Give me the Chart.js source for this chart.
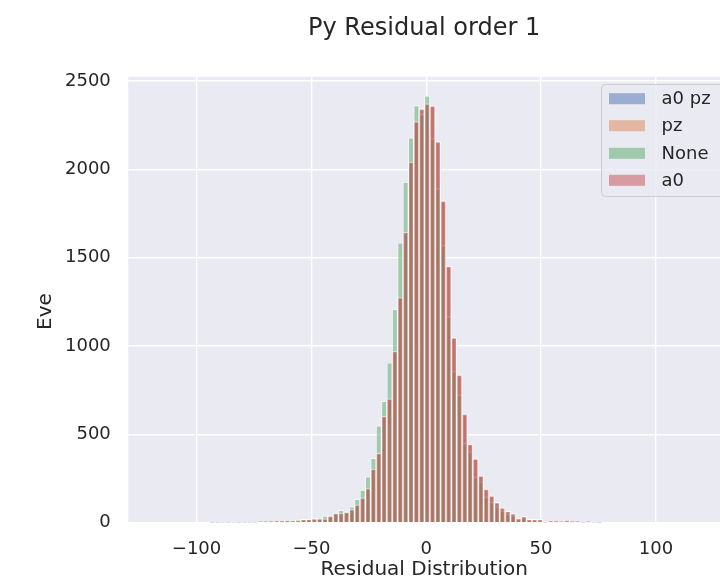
<!DOCTYPE html>
<html>
<head>
<meta charset="utf-8">
<script src="https://cdn.jsdelivr.net/npm/chart.js@4/dist/chart.umd.min.js"></script>
<style>
  html, body { margin: 0; padding: 0; background: #ffffff; overflow: hidden; }
  canvas { display: block; }
</style>
</head>
<body>
<canvas id="grafico" width="720" height="584"></canvas>
<script>
// bin centres (shared by the four histograms)
const bins = [
  -93.20, -90.86, -88.52, -86.18, -83.84, -81.50, -79.16, -76.82, -74.48,
  -72.14, -69.80, -67.46, -65.12, -62.78, -60.44, -58.10, -55.76, -53.42, -51.08,
  -48.74, -46.40, -44.06, -41.72, -39.38, -37.04, -34.70, -32.36, -30.02, -27.68,
  -25.34, -23.00, -20.66, -18.32, -15.98, -13.64, -11.30, -8.96, -6.62, -4.28, -1.94,
  0.40, 2.74, 5.08, 7.42, 9.76, 12.10, 14.44, 16.78, 19.12, 21.46,
  23.80, 26.14, 28.48, 30.82, 33.16, 35.50, 37.84, 40.18, 42.52, 44.86,
  47.20, 49.54, 51.88, 54.22, 56.56, 58.90, 61.24, 63.58, 65.92, 68.26,
  70.60, 72.94, 75.28
];

const a0pz = [
  1, 2, 3, 1, 2, 1, 2, 2, 2,
  4, 4, 6, 6, 7, 9, 12, 13, 18, 18, 22, 21, 23, 37, 52, 53, 58, 73, 99, 139,
  192, 302, 394, 603, 699, 972, 1276, 1640, 2043, 2266, 2344,
  2368, 2360, 2152, 1818, 1448, 1044, 838, 616, 441, 363,
  266, 188, 152, 112, 84, 63, 52, 23, 37, 18,
  20, 18, 2, 8, 7, 4, 13, 6, 5, 1, 5, 3, 1
];

const pz = [
  2, 1, 2, 2, 3, 1, 2, 1, 3,
  4, 5, 5, 7, 8, 9, 11, 14, 17, 19, 21, 23, 22, 36, 51, 55, 59, 75, 101, 141,
  195, 305, 390, 598, 704, 968, 1270, 1645, 2038, 2272, 2338,
  2372, 2355, 2158, 1822, 1452, 1048, 840, 612, 445, 365,
  263, 190, 150, 114, 82, 65, 50, 25, 35, 20,
  18, 19, 3, 7, 8, 5, 12, 5, 4, 2, 4, 2, 1
];

const none = [
  1, 2, 1, 2, 3, 1, 2, 3, 2,
  4, 5, 6, 7, 8, 10, 12, 15, 19, 20, 24, 25, 37, 40, 55, 70, 62, 89, 132, 184,
  259, 364, 548, 686, 904, 1207, 1583, 1927, 2178, 2360, 2312,
  2415, 2174, 1890, 1568, 1166, 857, 723, 449, 402, 259,
  231, 146, 116, 89, 66, 49, 40, 20, 28, 16,
  15, 14, 2, 6, 5, 3, 8, 3, 4, 1, 3, 2, 1
];

const a0 = [
  2, 1, 3, 2, 2, 1, 2, 2, 3,
  4, 4, 6, 7, 7, 9, 11, 14, 18, 18, 22, 22, 22, 37, 52, 54, 58, 74, 100, 140,
  193, 303, 392, 601, 701, 970, 1274, 1643, 2041, 2269, 2341,
  2370, 2358, 2155, 1820, 1450, 1046, 834, 614, 443, 360,
  265, 189, 151, 113, 83, 64, 51, 24, 36, 19,
  19, 19, 2, 8, 8, 4, 13, 5, 5, 1, 5, 2, 1
];

const xTicks = [-100, -50, 0, 50, 100];
const yTicks = [0, 500, 1000, 1500, 2000, 2500];

const series = [
  { label: "a0 pz", data: a0pz, color: "rgba(76, 114, 176, 0.5)", order: 4 },
  { label: "pz", data: pz, color: "rgba(221, 132, 82, 0.5)", order: 3 },
  { label: "None", data: none, color: "rgba(85, 168, 104, 0.5)", order: 2 },
  { label: "a0", data: a0, color: "rgba(196, 78, 82, 0.5)", order: 1 },
];

const texto = "#262626";
const fuente = "'DejaVu Sans', sans-serif";

const fondo = {
  id: "fondo",
  beforeDraw(chart) {
    const { ctx, chartArea: a } = chart;
    ctx.save();
    ctx.fillStyle = "#eaeaf2";
    ctx.fillRect(a.left, a.top, a.right - a.left, a.bottom - a.top);
    ctx.restore();
  },
};

const extras = {
  id: "extras",
  afterDraw(chart) {
    const ctx = chart.ctx;
    // y label, cut short as in the original
    ctx.save();
    ctx.translate(46, 330);
    ctx.rotate(-Math.PI / 2);
    ctx.fillStyle = texto;
    ctx.font = "20px " + fuente;
    ctx.textAlign = "left";
    ctx.textBaseline = "middle";
    ctx.fillText("Eve", 0, 0);
    ctx.restore();

    // legend box inside the axes
    ctx.save();
    ctx.beginPath();
    ctx.roundRect(601.5, 84.5, 130, 112, 4);
    ctx.fillStyle = "rgba(234, 234, 242, 0.8)";
    ctx.fill();
    ctx.strokeStyle = "#cccccc";
    ctx.lineWidth = 1;
    ctx.stroke();
    const filas = [98.7, 125.7, 153.3, 180.3];
    series.forEach((s, i) => {
      ctx.fillStyle = s.color;
      ctx.fillRect(609, filas[i] - 5.5, 36, 11);
      ctx.fillStyle = texto;
      ctx.font = "18px " + fuente;
      ctx.textAlign = "left";
      ctx.textBaseline = "middle";
      ctx.fillText(s.label, 661.5, filas[i] + 1);
    });
    ctx.restore();
  },
};

new Chart(document.getElementById("grafico"), {
  type: "bar",
  data: {
    datasets: series.map((s) => ({
      label: s.label,
      data: bins.map((x, i) => ({ x: x, y: s.data[i] })),
      backgroundColor: s.color,
      borderColor: "rgba(255, 255, 255, 0.5)",
      borderWidth: 1,
      order: s.order,
      grouped: false,
      barPercentage: 1,
      categoryPercentage: 1,
    })),
  },
  options: {
    responsive: false,
    animation: false,
    devicePixelRatio: 1,
    layout: { padding: { left: 47.5, right: 0, top: 0, bottom: 0 } },
    plugins: {
      legend: { display: false },
      tooltip: { enabled: false },
      title: {
        display: true,
        text: "Py Residual order 1",
        color: texto,
        font: { family: fuente, size: 24, weight: "normal" },
        padding: { top: 14, bottom: 34 },
        fullSize: false,
      },
    },
    scales: {
      x: {
        type: "linear",
        min: -129.7,
        max: 127.9,
        offset: false,
        afterBuildTicks: (axis) => {
          axis.ticks = xTicks.map((v) => ({ value: v }));
        },
        grid: { color: "#ffffff", lineWidth: 1.4, drawTicks: false, offset: false },
        border: { display: false },
        ticks: {
          color: texto,
          font: { family: fuente, size: 18 },
          padding: 15.6,
          maxRotation: 0,
          callback: (v) => (v < 0 ? "\u2212" + Math.abs(v) : String(v)),
        },
        title: {
          display: true,
          text: "Residual Distribution",
          color: texto,
          font: { family: fuente, size: 20 },
          padding: { top: -17.4, bottom: 2 },
        },
      },
      y: {
        min: 0,
        max: 2523,
        afterBuildTicks: (axis) => {
          axis.ticks = yTicks.map((v) => ({ value: v }));
        },
        grid: { color: "#ffffff", lineWidth: 1.4, drawTicks: false },
        border: { display: false },
        ticks: {
          color: texto,
          font: { family: fuente, size: 18 },
          padding: 17.5,
          callback: (v) => String(v),
        },
      },
    },
  },
  plugins: [fondo, extras],
});
</script>
</body>
</html>
